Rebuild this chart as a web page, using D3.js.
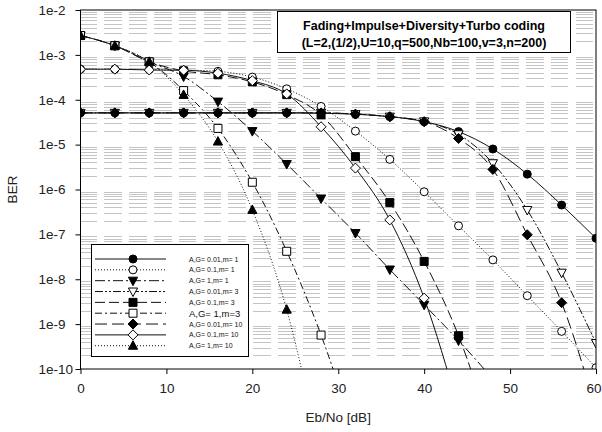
<!DOCTYPE html>
<html>
<head>
<meta charset="utf-8">
<script src="https://cdn.jsdelivr.net/npm/d3@7"></script>
<style>
  body { margin: 0; background: #fff; }
  svg { display: block; font-family: "Liberation Sans", Arial, sans-serif; }
</style>
</head>
<body>
<div id="chart"></div>
<script>
// x values (Eb/No in dB) where the markers sit
const ebno = [0, 4, 8, 12, 16, 20, 24, 28, 32, 36, 40, 44, 48, 52, 56, 60];

// BER per curve (null = off the chart)
const ag001m1  = [5.1e-5, 5.1e-5, 5.1e-5, 5.1e-5, 5.1e-5, 5.1e-5, 5.1e-5, 5.0e-5, 4.75e-5, 4.2e-5, 3.25e-5, 1.95e-5, 8e-6, 2.2e-6, 4.5e-7, 8.2e-8];
const ag01m1   = [4.8e-4, 4.8e-4, 4.7e-4, 4.6e-4, 4.3e-4, 3.2e-4, 1.75e-4, 7.1e-5, 2.0e-5, 4.7e-6, 8.9e-7, 1.55e-7, 2.7e-8, 4.3e-9, 6.9e-10, 1.07e-10];
const ag1m1    = [2.7e-3, 1.6e-3, 7e-4, 3.3e-4, 9.1e-5, 2.0e-5, 3.7e-6, 6.3e-7, 1.07e-7, 1.65e-8, 2.7e-9, 4.3e-10, 6e-11, null, null, null];
const ag001m3  = [5.1e-5, 5.1e-5, 5.1e-5, 5.1e-5, 5.1e-5, 5.1e-5, 5.1e-5, 5.1e-5, 4.8e-5, 4.2e-5, 3.3e-5, 1.7e-5, 3.85e-6, 3.5e-7, 1.4e-8, 3.8e-10];
const ag01m3   = [2.7e-3, 1.6e-3, 7e-4, 4.4e-4, 3.6e-4, 2.5e-4, 1.3e-4, 4.6e-5, 5.4e-6, 5.1e-7, 2.5e-8, 5.5e-10, 3e-12, null, null, null];
const ag1m3    = [2.7e-3, 1.6e-3, 7e-4, 1.6e-4, 2.3e-5, 1.45e-6, 4.2e-8, 5.7e-10, 3e-12, null, null, null, null, null, null, null];
const ag001m10 = [5.1e-5, 5.1e-5, 5.1e-5, 5.1e-5, 5.1e-5, 5.1e-5, 5.1e-5, 5.1e-5, 4.8e-5, 4.2e-5, 3.25e-5, 1.37e-5, 2.8e-6, 9.8e-8, 3e-9, 1.2e-11];
const ag01m10  = [4.8e-4, 4.8e-4, 4.6e-4, 4.55e-4, 3.9e-4, 2.66e-4, 1.35e-4, 2.5e-5, 3.0e-6, 2.1e-7, 3.8e-9, 1.3e-11, null, null, null, null];
const ag1m10   = [2.7e-3, 1.6e-3, 7e-4, 1.28e-4, 1.17e-5, 3.5e-7, 2.1e-9, 1e-12, null, null, null, null, null, null, null, null];

const seriesNames = ['A,G= 0.01,m= 1', 'A,G= 0.1,m= 1', 'A,G= 1,m= 1',
                     'A,G= 0.01,m= 3', 'A,G= 0.1,m= 3', 'A,G= 1,m=3',
                     'A,G= 0.01,m= 10', 'A,G= 0.1,m= 10', 'A,G= 1,m= 10'];

const xTicks = [0, 10, 20, 30, 40, 50, 60];
const yTicks = [1e-2, 1e-3, 1e-4, 1e-5, 1e-6, 1e-7, 1e-8, 1e-9, 1e-10];
const yTickLabels = ['1e-2', '1e-3', '1e-4', '1e-5', '1e-6', '1e-7', '1e-8', '1e-9', '1e-10'];
const titleLines = ['Fading+Impulse+Diversity+Turbo coding', '(L=2,(1/2),U=10,q=500,Nb=100,v=3,n=200)'];

// styles for each curve (marker shape, fill, dash)
const styles = [
  { shape: 'circle',   fill: '#000', dash: null },
  { shape: 'circle',   fill: '#fff', dash: '1,2' },
  { shape: 'triDown',  fill: '#000', dash: '10,3,2,3' },
  { shape: 'triDown',  fill: '#fff', dash: '8,2,2,2,2,2' },
  { shape: 'square',   fill: '#000', dash: '10,4' },
  { shape: 'square',   fill: '#fff', dash: '7,3,2,3' },
  { shape: 'diamond',  fill: '#000', dash: '12,5' },
  { shape: 'diamond',  fill: '#fff', dash: null },
  { shape: 'triUp',    fill: '#000', dash: '1,2' }
];

const allSeries = [ag001m1, ag01m1, ag1m1, ag001m3, ag01m3, ag1m3, ag001m10, ag01m10, ag1m10];

const width = 602, height = 432;
const plot = { left: 80.5, right: 596, top: 10, bottom: 369 };

const svg = d3.select('#chart')
  .append('svg')
  .attr('width', width)
  .attr('height', height);

// scales
const x = d3.scaleLinear().domain([0, 60]).range([plot.left, plot.right]);
const y = d3.scaleLog().domain([1e-10, 1e-2]).range([plot.bottom, plot.top]);

// marker paths
const markerPath = {
  circle:  'M4,0A4,4 0 1,1 -4,0A4,4 0 1,1 4,0Z',
  square:  'M-4,-4H4V4H-4Z',
  diamond: 'M0,-5L5,0L0,5L-5,0Z',
  triUp:   'M0,-5L4.6,3.5L-4.6,3.5Z',
  triDown: 'M0,5L4.6,-3.5L-4.6,-3.5Z'
};

// minor grid lines (2..9 in each decade), dashed
const gridVals = [];
for (let e = -10; e < -2; e++) {
  for (let k = 2; k <= 9; k++) gridVals.push(k * Math.pow(10, e));
}
svg.append('g')
  .selectAll('line')
  .data(gridVals)
  .enter()
  .append('line')
    .attr('x1', plot.left)
    .attr('x2', plot.right)
    .attr('y1', d => Math.round(y(d)) + 0.5)
    .attr('y2', d => Math.round(y(d)) + 0.5)
    .attr('stroke', '#c4c4c4')
    .attr('stroke-width', 1)
    .attr('stroke-dasharray', '17.5,7.3')
    .attr('stroke-dashoffset', 0.85)
    .attr('shape-rendering', 'crispEdges');

// clip for curves
svg.append('clipPath')
  .attr('id', 'clip')
  .append('rect')
    .attr('x', plot.left)
    .attr('y', plot.top)
    .attr('width', plot.right - plot.left)
    .attr('height', plot.bottom - plot.top);

const line = d3.line()
  .defined(d => d[1] != null)
  .curve(d3.curveMonotoneX)
  .x(d => x(d[0]))
  .y(d => y(d[1]));

const curves = svg.append('g').attr('clip-path', 'url(#clip)');

allSeries.forEach((vals, i) => {
  const pts = ebno.map((e, j) => [e, vals[j]]);
  curves.append('path')
    .datum(pts)
    .attr('fill', 'none')
    .attr('stroke', '#111')
    .attr('stroke-width', 1)
    .attr('stroke-dasharray', styles[i].dash)
    .attr('d', line);
});

allSeries.forEach((vals, i) => {
  const pts = ebno.map((e, j) => [e, vals[j]]).filter(d => d[1] != null && d[1] >= 1e-10);
  curves.selectAll(null)
    .data(pts)
    .enter()
    .append('path')
      .attr('d', markerPath[styles[i].shape])
      .attr('transform', d => `translate(${x(d[0])},${y(d[1])})`)
      .attr('fill', styles[i].fill)
      .attr('stroke', '#000')
      .attr('stroke-width', 1);
});

// frame
svg.append('rect')
  .attr('x', plot.left)
  .attr('y', plot.top)
  .attr('width', plot.right - plot.left)
  .attr('height', plot.bottom - plot.top)
  .attr('fill', 'none')
  .attr('stroke', '#000')
  .attr('stroke-width', 1);

// axes
const yAxis = d3.axisLeft(y)
  .tickValues(yTicks)
  .tickSize(5)
  .tickFormat((d, i) => yTickLabels[i]);

const yAxisGroup = svg.append('g')
  .attr('transform', `translate(${plot.left},0)`)
  .call(yAxis);
yAxisGroup.select('.domain').remove();
yAxisGroup.selectAll('text')
  .attr('x', -42)
  .attr('text-anchor', 'start')
  .attr('font-size', 13.5)
  .attr('fill', '#222');

const xAxis = d3.axisBottom(x)
  .tickValues(xTicks)
  .tickSize(5)
  .tickPadding(9);

const xAxisGroup = svg.append('g')
  .attr('transform', `translate(0,${plot.bottom})`)
  .call(xAxis);
xAxisGroup.select('.domain').remove();
xAxisGroup.selectAll('text')
  .attr('font-size', 13.5)
  .attr('fill', '#222');
// last label sits at the right edge; keep it inside the page
xAxisGroup.selectAll('text')
  .filter(d => d === 60)
  .attr('text-anchor', 'end')
  .attr('x', 5);

// axis titles
svg.append('text')
  .attr('transform', `translate(17,${(plot.top + plot.bottom) / 2}) rotate(-90)`)
  .attr('text-anchor', 'middle')
  .attr('font-size', 13.5)
  .attr('fill', '#222')
  .text('BER');

svg.append('text')
  .attr('x', (plot.left + plot.right) / 2)
  .attr('y', 422)
  .attr('text-anchor', 'middle')
  .attr('font-size', 13.5)
  .attr('fill', '#222')
  .text('Eb/No [dB]');

// title box
svg.append('rect')
  .attr('x', 277.5)
  .attr('y', 11.5)
  .attr('width', 293)
  .attr('height', 41)
  .attr('fill', '#fff')
  .attr('stroke', '#000')
  .attr('stroke-width', 1);

svg.selectAll('.title')
  .data(titleLines)
  .enter()
  .append('text')
    .attr('class', 'title')
    .attr('x', 424)
    .attr('y', (d, i) => 29.5 + i * 17)
    .attr('text-anchor', 'middle')
    .attr('font-size', 12.5)
    .attr('font-weight', 'bold')
    .text(d => d);

// legend
const legend = svg.append('g');
legend.append('rect')
  .attr('x', 91.5)
  .attr('y', 244.5)
  .attr('width', 157)
  .attr('height', 112)
  .attr('fill', '#fff')
  .attr('stroke', '#000')
  .attr('stroke-width', 1);

seriesNames.forEach((name, i) => {
  const ly = 259 + i * 10.84;
  legend.append('line')
    .attr('x1', 95).attr('x2', 166)
    .attr('y1', ly).attr('y2', ly)
    .attr('stroke', '#111')
    .attr('stroke-width', 1)
    .attr('stroke-dasharray', styles[i].dash);
  legend.append('path')
    .attr('d', markerPath[styles[i].shape])
    .attr('transform', `translate(133,${ly})`)
    .attr('fill', styles[i].fill)
    .attr('stroke', '#000');
  legend.append('text')
    .attr('x', 189)
    .attr('y', ly + (i === 5 ? 3.5 : 2.5))
    .attr('font-size', i === 5 ? 9.5 : 7)
    .attr('fill', '#111')
    .text(name);
});
</script>
</body>
</html>
